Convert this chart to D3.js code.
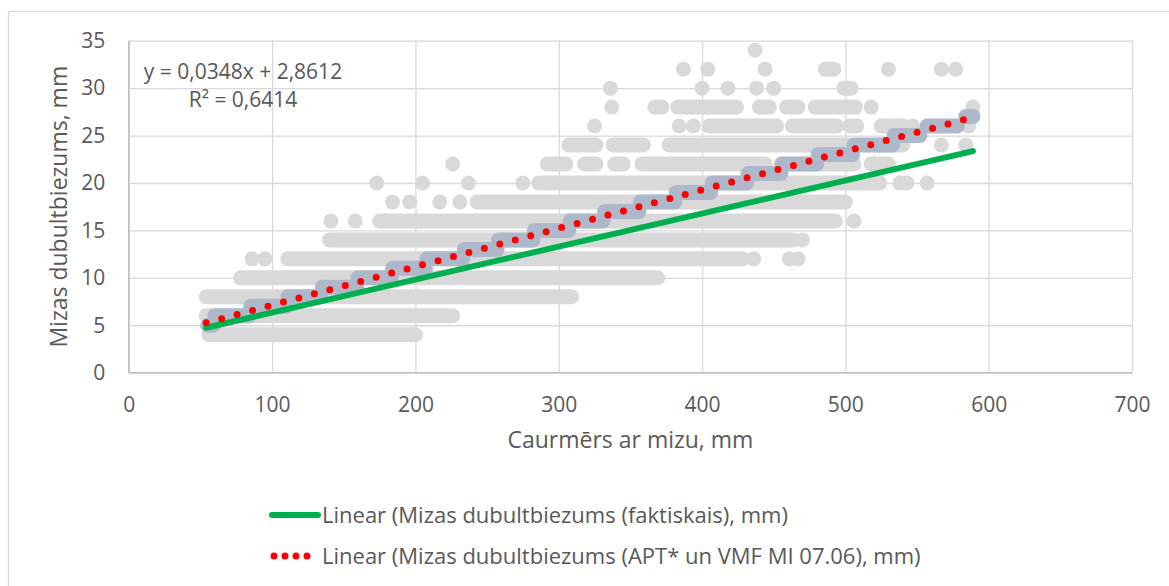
<!DOCTYPE html>
<html>
<head>
<meta charset="utf-8">
<title>Mizas dubultbiezums</title>
<script src="https://cdn.jsdelivr.net/npm/d3@7"></script>
<style>
  body { margin: 0; background: #fff; }
  svg text { font-family: "Open Sans", sans-serif; fill: #595959; }
</style>
</head>
<body>
<svg id="chart" width="1169" height="586"></svg>
<script>

// ticks
var xTicks = [0, 100, 200, 300, 400, 500, 600, 700];
var yTicks = [0, 5, 10, 15, 20, 25, 30, 35];

// actual bark thickness: dense runs of observations [y, xFrom, xTo]
var factRuns = [
  [4, 56, 200], [6, 54, 226], [8, 54, 309], [10, 78, 369],
  [12, 111, 428], [14, 140, 463], [16, 175, 493], [18, 243, 500],
  [20, 286, 524],
  [22, 292, 305], [22, 318, 326], [22, 339, 345], [22, 358, 444], [22, 455, 506], [22, 518, 530],
  [24, 307, 326], [24, 338, 359], [24, 377, 503], [24, 522, 540],
  [26, 405, 452], [26, 463, 494], [26, 503, 508], [26, 525, 540],
  [28, 367, 372], [28, 383, 424], [28, 440, 447], [28, 459, 467], [28, 479, 507],
  [30, 499, 504],
  [32, 486, 492]
];
// actual bark thickness: isolated observations [y, x]
var factPoints = [
  [12, 86], [12, 95], [12, 436], [12, 461], [12, 467],
  [14, 470],
  [16, 141], [16, 158], [16, 506],
  [18, 184], [18, 196], [18, 217], [18, 231],
  [20, 173], [20, 205], [20, 237], [20, 275], [20, 538], [20, 543], [20, 557],
  [22, 226],
  [24, 567], [24, 584],
  [26, 325], [26, 384], [26, 394], [26, 536], [26, 547], [26, 586],
  [28, 337], [28, 518], [28, 589],
  [30, 336], [30, 400], [30, 418], [30, 438], [30, 450],
  [32, 387], [32, 404], [32, 444], [32, 530], [32, 567], [32, 577],
  [34, 437]
];
// APT* un VMF MI 07.06 values: steps [y, xFrom, xTo]
var aptSteps = [
  [5, 55, 59], [6, 60, 84], [7, 85, 110], [8, 111, 134], [9, 135, 159],
  [10, 160, 183], [11, 184, 207], [12, 208, 233], [13, 234, 257], [14, 258, 282],
  [15, 283, 307], [16, 308, 331], [17, 332, 356], [18, 357, 381], [19, 382, 406],
  [20, 407, 431], [21, 432, 455], [22, 456, 480], [23, 481, 505], [24, 506, 533],
  [25, 534, 552], [26, 557, 578], [27, 584, 589]
];

// linear trend lines [slope, intercept] and x extent
var trendFact = [0.0348, 2.8612];
var trendApt = [0.0405, 3.07];
var trendRange = [54, 589];

var eqLabel = "y = 0,0348x + 2,8612";
var r2Label = "R\u00b2 = 0,6414";
var legendLabels = [
  "Linear (Mizas dubultbiezums (faktiskais), mm)",
  "Linear (Mizas dubultbiezums (APT* un VMF MI 07.06), mm)"
];

var svg = d3.select("#chart");
var pL = 128.8, pR = 1132, pT = 40.7, pB = 372.7;
var grey = "#D9D9D9", blue = "#ADB9CA", green = "#00B050", red = "#FF0000";

var x = d3.scaleLinear().domain([0, 700]).range([pL, pR]);
var y = d3.scaleLinear().domain([0, 35]).range([pB, pT]);

// chart border
svg.append("rect")
  .attr("x", 8.5).attr("y", 11.5).attr("width", 1200).attr("height", 700)
  .attr("fill", "none").attr("stroke", grey).attr("stroke-width", 1.3);

// grid + labels
var gx = svg.append("g").attr("transform", "translate(0," + pB + ")")
  .call(d3.axisBottom(x).tickValues(xTicks).tickSize(-(pB - pT)).tickPadding(24.5));
var gy = svg.append("g").attr("transform", "translate(" + pL + ",0)")
  .call(d3.axisLeft(y).tickValues(yTicks).tickSize(-(pR - pL)).tickPadding(23.5));
[gx, gy].forEach(function (g) {
  g.select(".domain").remove();
  g.selectAll("line").attr("stroke", grey).attr("stroke-width", 1.3);
  g.selectAll("text").attr("font-size", 21).attr("fill", "#595959")
    .style("font-family", "'Open Sans', sans-serif");
});

// axis lines
svg.append("line").attr("x1", pL).attr("x2", pR).attr("y1", pB).attr("y2", pB)
  .attr("stroke", "#BFBFBF").attr("stroke-width", 1.5);
svg.append("line").attr("x1", pL).attr("x2", pL).attr("y1", pT).attr("y2", pB)
  .attr("stroke", "#BFBFBF").attr("stroke-width", 1.5);

var r = 7.5;

// actual observations
var plot = svg.append("g");
plot.selectAll(".frun").data(factRuns).enter().append("line")
  .attr("x1", function (d) { return x(d[1]); })
  .attr("x2", function (d) { return x(d[2]); })
  .attr("y1", function (d) { return y(d[0]); })
  .attr("y2", function (d) { return y(d[0]); })
  .attr("stroke", grey).attr("stroke-width", 2 * r).attr("stroke-linecap", "round");
plot.selectAll(".fpt").data(factPoints).enter().append("circle")
  .attr("cx", function (d) { return x(d[1]); })
  .attr("cy", function (d) { return y(d[0]); })
  .attr("r", r).attr("fill", grey);

// APT steps
plot.selectAll(".astep").data(aptSteps).enter().append("line")
  .attr("x1", function (d) { return x(d[1]); })
  .attr("x2", function (d) { return x(d[2]); })
  .attr("y1", function (d) { return y(d[0]); })
  .attr("y2", function (d) { return y(d[0]); })
  .attr("stroke", blue).attr("stroke-width", 2 * r).attr("stroke-linecap", "round");

// trend lines
function trendLine(c) {
  return trendRange.map(function (v) { return [x(v), y(c[0] * v + c[1])]; });
}
svg.append("path").attr("d", d3.line()(trendLine(trendFact)))
  .attr("stroke", green).attr("stroke-width", 6).attr("fill", "none").attr("stroke-linecap", "round");
svg.append("path").attr("d", d3.line()(trendLine(trendApt)))
  .attr("stroke", red).attr("stroke-width", 7).attr("fill", "none")
  .attr("stroke-linecap", "round").attr("stroke-dasharray", "0 16");

// equation
svg.append("text").attr("x", 243).attr("y", 79).attr("text-anchor", "middle")
  .attr("font-size", 21).text(eqLabel);
svg.append("text").attr("x", 243).attr("y", 107).attr("text-anchor", "middle")
  .attr("font-size", 21).text(r2Label);

// axis titles
svg.append("text").attr("x", (pL + pR) / 2).attr("y", 448).attr("text-anchor", "middle")
  .attr("font-size", 23).text("Caurmērs ar mizu, mm");
svg.append("text").attr("transform", "translate(67," + (pT + pB) / 2 + ") rotate(-90)")
  .attr("text-anchor", "middle").attr("font-size", 23).text("Mizas dubultbiezums, mm");

// legend
var lg = svg.append("g");
lg.append("line").attr("x1", 272).attr("x2", 318).attr("y1", 515).attr("y2", 515)
  .attr("stroke", green).attr("stroke-width", 6).attr("stroke-linecap", "round");
lg.append("line").attr("x1", 274).attr("x2", 318).attr("y1", 556).attr("y2", 556)
  .attr("stroke", red).attr("stroke-width", 7).attr("stroke-linecap", "round")
  .attr("stroke-dasharray", "0 11");
lg.selectAll(".lt").data(legendLabels).enter().append("text")
  .attr("x", 322).attr("y", function (d, i) { return 523 + i * 41; })
  .attr("font-size", 22).text(function (d) { return d; });

</script>
</body>
</html>
